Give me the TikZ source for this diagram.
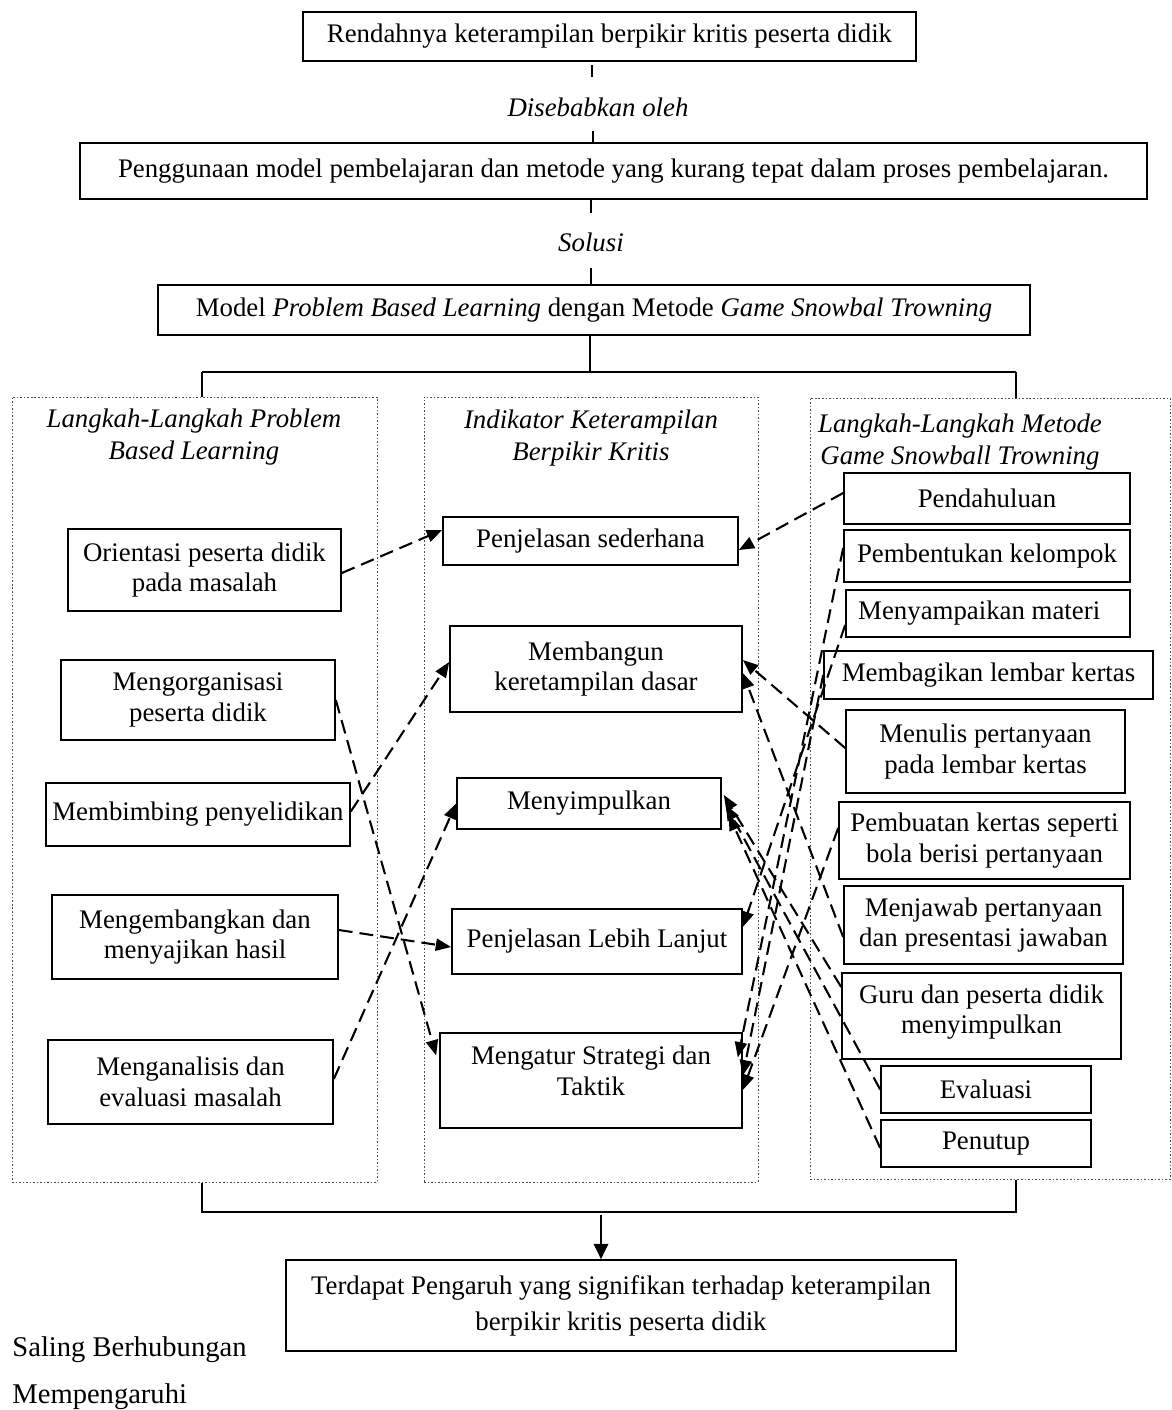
\documentclass[tikz,border=0pt]{standalone}
\usepackage{fontspec}
\setmainfont{Liberation Serif}
\usetikzlibrary{arrows.meta,calc}
\newcommand{\pxu}{0.455pt}
\tikzset{
  box/.style={draw, line width=0.75pt, inner sep=0pt, align=center, font=\fontsize{12.2}{13.9}\selectfont},
  cont/.style={draw=black!70, line width=0.45pt, dash pattern=on 0.7pt off 0.9pt, inner sep=0pt},
  hdr/.style={align=center, inner sep=0pt, font=\itshape\fontsize{12.2}{14.2}\selectfont},
  lbl/.style={inner sep=0pt, font=\itshape\fontsize{12.2}{14}\selectfont},
  link/.style={line width=0.95pt, dash pattern=on 6.3pt off 3.2pt, -{Triangle[length=7pt,width=5.5pt]}},
  tree/.style={line width=1.1pt},
  tickline/.style={line width=0.9pt},
  note/.style={anchor=west, inner sep=0pt, font=\fontsize{13}{15}\selectfont}
}
\begin{document}
\begin{tikzpicture}[x=0.455pt, y=-0.455pt]
\useasboundingbox (0,0) rectangle (1172,1410);

% top chain
\node[box, minimum width=613*\pxu, minimum height=49*\pxu] (b1) at (609.5,36.5) {Rendahnya keterampilan berpikir kritis peserta didik};
\node[lbl] (dis) at (598,107) {Disebabkan oleh};
\node[box, minimum width=1067*\pxu, minimum height=56*\pxu] (b2) at (613.5,171) {Penggunaan model pembelajaran dan metode yang kurang tepat dalam proses pembelajaran.};
\node[lbl] (sol) at (591,242) {Solusi};
\node[box, minimum width=872*\pxu, minimum height=50*\pxu] (b3) at (594,310) {Model \textit{Problem Based Learning} dengan Metode \textit{Game Snowbal Trowning}};

\coordinate (t1a) at (592,65);  \coordinate (t1b) at (592,77);
\coordinate (t2a) at (593,131); \coordinate (t2b) at (593,143);
\coordinate (t3a) at (591,200); \coordinate (t3b) at (591,213);
\coordinate (t4a) at (591,268); \coordinate (t4b) at (591,285);
\draw[tickline] (t1a) -- (t1b);
\draw[tickline] (t2a) -- (t2b);
\draw[tickline] (t3a) -- (t3b);
\draw[tickline] (t4a) -- (t4b);

% containers
\node[cont, minimum width=365*\pxu, minimum height=785*\pxu] (cL) at (194.5,789.5) {};
\node[cont, minimum width=334*\pxu, minimum height=785*\pxu] (cC) at (591,789.5) {};
\node[cont, minimum width=360*\pxu, minimum height=781*\pxu] (cR) at (990,788.5) {};

\node[hdr] (hL) at (194,437) {Langkah-Langkah Problem\\Based Learning};
\node[hdr] (hC) at (591,438) {Indikator Keterampilan\\Berpikir Kritis};
\node[hdr] (hR) at (960,442) {Langkah-Langkah Metode\\Game Snowball Trowning};

% tree from b3
\coordinate (j1) at (590,372);
\coordinate (jL) at (202,372);
\coordinate (jR) at (1016,372);
\draw[tree] (b3.south -| j1) -- (j1);
\draw[tree, line width=1.3pt] (jL) -- (jR);
\draw[tree] (jL) -- (jL |- cL.north);
\draw[tree] (jR) -- (jR |- cR.north);

% left boxes
\node[box, minimum width=273*\pxu, minimum height=82*\pxu] (o1) at (204.5,570) {Orientasi peserta didik\\pada masalah};
\node[box, minimum width=274*\pxu, minimum height=80*\pxu] (o2) at (198,700) {Mengorganisasi\\peserta didik};
\node[box, minimum width=304*\pxu, minimum height=63*\pxu] (o3) at (198,814.5) {Membimbing penyelidikan};
\node[box, minimum width=286*\pxu, minimum height=84*\pxu] (o4) at (195,937) {Mengembangkan dan\\menyajikan hasil};
\node[box, minimum width=285*\pxu, minimum height=84*\pxu] (o5) at (190.5,1082) {Menganalisis dan\\evaluasi masalah};

% centre boxes
\node[box, minimum width=295*\pxu, minimum height=48*\pxu] (i1) at (590.5,541) {Penjelasan sederhana};
\node[box, minimum width=292*\pxu, minimum height=86*\pxu] (i2) at (596,669) {Membangun\\keretampilan dasar};
\node[box, minimum width=264*\pxu, minimum height=51*\pxu] (i3) at (589,803.5) {Menyimpulkan};
\node[box, minimum width=290*\pxu, minimum height=65*\pxu] (i4) at (597,941.5) {Penjelasan Lebih Lanjut};
\node[box, minimum width=302*\pxu, minimum height=95*\pxu, text depth=9pt] (i5) at (591,1080.5) {Mengatur Strategi dan\\Taktik};

% right boxes
\node[box, minimum width=286*\pxu, minimum height=51*\pxu] (r1) at (987,498.5) {Pendahuluan};
\node[box, minimum width=286*\pxu, minimum height=52*\pxu] (r2) at (987,556) {Pembentukan kelompok};
\node[box, minimum width=284*\pxu, minimum height=47*\pxu] (r3) at (988,613.5) {Menyampaikan materi\hspace{8pt}};
\node[box, minimum width=329*\pxu, minimum height=48*\pxu] (r4) at (988.5,675) {Membagikan lembar kertas};
\node[box, minimum width=279*\pxu, minimum height=83*\pxu] (r5) at (985.5,751.5) {Menulis pertanyaan\\pada lembar kertas};
\node[box, minimum width=291*\pxu, minimum height=77*\pxu] (r6) at (984.5,840.5) {Pembuatan kertas seperti\\bola berisi pertanyaan};
\node[box, minimum width=279*\pxu, minimum height=78*\pxu] (r7) at (983.5,925) {Menjawab pertanyaan\\dan presentasi jawaban};
\node[box, minimum width=279*\pxu, minimum height=86*\pxu, text depth=6pt] (r8) at (981.5,1016) {Guru dan peserta didik\\menyimpulkan};
\node[box, minimum width=210*\pxu, minimum height=47*\pxu] (r9) at (986,1089.5) {Evaluasi};
\node[box, minimum width=210*\pxu, minimum height=47*\pxu] (r10) at (986,1143.5) {Penutup};

% dashed links: left to centre
\draw[link] ([yshift=-3*\pxu]o1.east) -- ([yshift=11*\pxu]i1.west);
\draw[link] (o2.east) -- ([xshift=-3*\pxu,yshift=25*\pxu]i5.west);
\draw[link] ([yshift=3*\pxu]o3.east) -- ([yshift=7*\pxu]i2.west);
\draw[link] ([yshift=7*\pxu]o4.east) -- ([yshift=-5.5*\pxu]i4.west);
\draw[link] ([yshift=3*\pxu]o5.east) -- (i3.west);

% dashed links: right to centre
\draw[link] ([yshift=5.5*\pxu]r1.west) -- ([yshift=-9*\pxu]i1.east);
\draw[link] ([yshift=8*\pxu]r2.west) -- ([xshift=-5*\pxu,yshift=23*\pxu]i5.east);
\draw[link] ([yshift=-11.5*\pxu]r3.west) -- ([yshift=14.5*\pxu]i4.east);
\draw[link] (r4.west) -- ([yshift=5*\pxu]i5.east);
\draw[link] ([yshift=3.5*\pxu]r5.west) -- ([yshift=9*\pxu]i2.east);
\draw[link] ([yshift=12.5*\pxu]r6.west) -- ([yshift=-9.5*\pxu]i5.east);
\draw[link] ([yshift=-12*\pxu]r7.west) -- ([yshift=-4*\pxu]i2.east);
\draw[link] ([yshift=29*\pxu]r8.west) -- ([xshift=2*\pxu,yshift=8.5*\pxu]i3.east);
\draw[link] (r9.west) -- ([xshift=4*\pxu,yshift=-1.5*\pxu]i3.east);
\draw[link] ([yshift=-4.5*\pxu]r10.west) -- ([xshift=7*\pxu,yshift=-11.5*\pxu]i3.east);

% bottom
\node[box, minimum width=670*\pxu, minimum height=91*\pxu, font=\fontsize{12.2}{16.4}\selectfont] (res) at (621,1305.5) {Terdapat Pengaruh yang signifikan terhadap keterampilan\\berpikir kritis peserta didik};
\coordinate (kL) at (202,1212);
\coordinate (kR) at (1016,1212);
\draw[tree] (kL |- cL.south) -- (kL) -- (kR) -- (kR |- cR.south);
\coordinate (k1) at (601,1215);
\draw[line width=1.1pt, -{Triangle[length=7pt,width=6.5pt]}] (k1) -- (k1 |- res.north);

\node[note] (sb) at (12,1350) {Saling Berhubungan};
\node[note] (mp) at (12,1397) {Mempengaruhi};
\end{tikzpicture}
\end{document}
